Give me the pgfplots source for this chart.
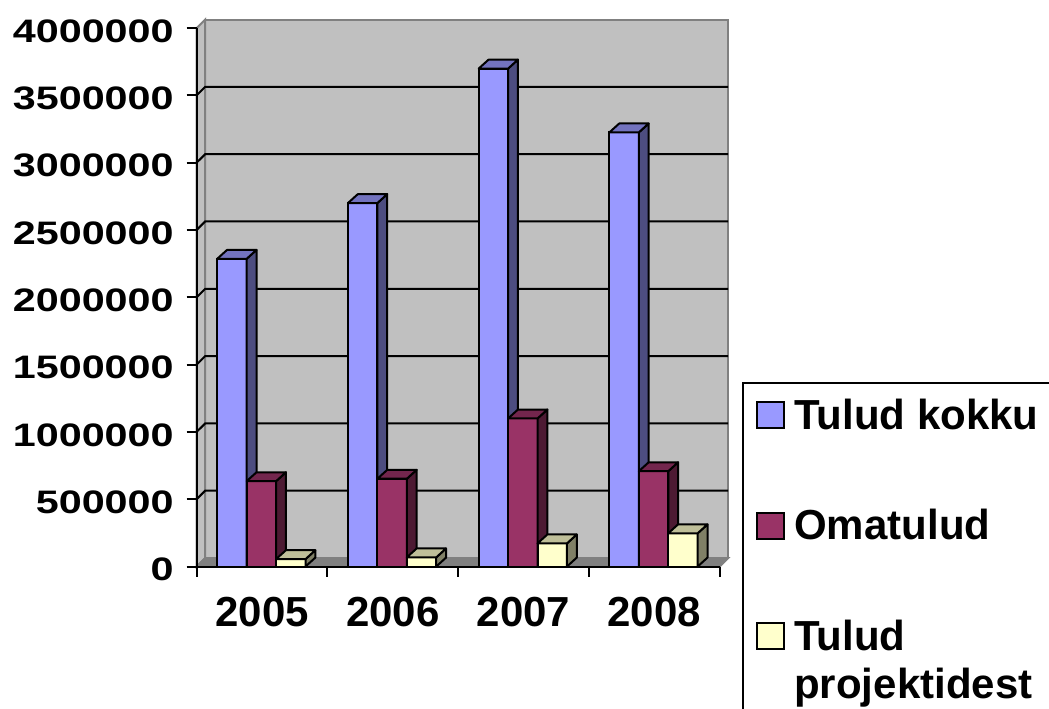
\documentclass[border=0pt]{standalone}
\usepackage{fontspec}
\setmainfont{Liberation Sans}
\newfontfamily\ystretch{Liberation Sans}[FakeStretch=1.27]
\usepackage{pgfplots}
\usepackage{pgfplotstable}
\pgfplotsset{compat=1.18}
\definecolor{bluefront}{HTML}{9999FF}
\definecolor{blueside}{HTML}{4D4D80}
\definecolor{bluetop}{HTML}{7373BF}
\definecolor{redfront}{HTML}{993366}
\definecolor{redside}{HTML}{4D1A33}
\definecolor{redtop}{HTML}{73264D}
\definecolor{yelfront}{HTML}{FFFFCC}
\definecolor{yelside}{HTML}{808066}
\definecolor{yeltop}{HTML}{BFBF99}
\definecolor{wall}{HTML}{C0C0C0}
\definecolor{floorc}{HTML}{808080}
\newcommand\yfont{\ystretch\bfseries\fontsize{16.25}{18}\selectfont}
\newcommand\legfont{\bfseries\fontsize{21}{22}\selectfont}

\pgfplotstableread{
x blue red yellow
1 2286000 634000 55000
2 2700000 652000 68000
3 3699000 1100000 172000
4 3225000 708000 247000
}\datatable

\def\dx{0.075}
\def\dy{66000}
\def\bw{0.1125}

% #1 column, #2 shift, #3 side colour, #4 top colour
\newcommand\barfaces[4]{%
  \pgfplotsinvokeforeach{0,1,2,3}{%
    \pgfplotstablegetelem{##1}{#1}\of\datatable
    \let\v\pgfplotsretval
    \edef\xa{\fpeval{##1+1+#2-\bw}}%
    \edef\xb{\fpeval{##1+1+#2+\bw}}%
    \edef\xc{\fpeval{\xb+\dx}}%
    \edef\xd{\fpeval{\xa+\dx}}%
    \edef\vt{\fpeval{\v+\dy}}%
    \edef\tmp{\noexpand\addplot[forget plot, fill=#3, draw=black, line width=1pt, line join=round]
      coordinates {(\xb,0) (\xc,\dy) (\xc,\vt) (\xb,\v)} -- cycle;
      \noexpand\addplot[forget plot, fill=#4, draw=black, line width=1pt, line join=round]
      coordinates {(\xa,\v) (\xb,\v) (\xc,\vt) (\xd,\vt)} -- cycle;}%
    \tmp
  }%
}

\begin{document}
\begin{tikzpicture}
\begin{axis}[
  at={(0,0)}, anchor=south west,
  scale only axis, width=261.45pt, height=269.25pt,
  xmin=0.5, xmax=4.5, ymin=0, ymax=4000000,
  clip=false,
  axis x line*=bottom, axis y line*=left,
  axis line style={black, line width=1pt, -},
  axis on top=true,
  tick align=outside,
  major tick length=5pt, minor tick length=5pt,
  every tick/.style={black, line width=1pt},
  xtick={1,2,3,4}, xticklabels={2005,2006,2007,2008},
  minor xtick={0.5,1.5,2.5,3.5,4.5},
  major x tick style={draw=none},
  xticklabel style={font=\legfont, yshift=-7pt},
  ytick={0,500000,1000000,1500000,2000000,2500000,3000000,3500000,4000000},
  scaled y ticks=false,
  yticklabel style={font=\yfont, xshift=-3pt, yshift=-1.5pt,
    /pgf/number format/fixed, /pgf/number format/1000 sep={},
    /pgf/number format/assume math mode=true},
]
% walls and floor
\addplot[forget plot, fill=wall, draw=floorc, line width=1pt]
  coordinates {(0.565,63000) (4.565,63000) (4.565,4063000) (0.565,4063000)} -- cycle;
\addplot[forget plot, fill=wall, draw=floorc, line width=1pt]
  coordinates {(0.5,0) (0.565,63000) (0.565,4063000) (0.5,4000000)} -- cycle;
\addplot[forget plot, fill=floorc, draw=floorc, line width=1pt]
  coordinates {(0.5,0) (4.5,0) (4.565,63000) (0.565,63000)} -- cycle;
% gridlines
\addplot[forget plot, black, line width=1pt] coordinates {(0.5,500000) (0.565,563000) (4.565,563000)};
\addplot[forget plot, black, line width=1pt] coordinates {(0.5,1000000) (0.565,1063000) (4.565,1063000)};
\addplot[forget plot, black, line width=1pt] coordinates {(0.5,1500000) (0.565,1563000) (4.565,1563000)};
\addplot[forget plot, black, line width=1pt] coordinates {(0.5,2000000) (0.565,2063000) (4.565,2063000)};
\addplot[forget plot, black, line width=1pt] coordinates {(0.5,2500000) (0.565,2563000) (4.565,2563000)};
\addplot[forget plot, black, line width=1pt] coordinates {(0.5,3000000) (0.565,3063000) (4.565,3063000)};
\addplot[forget plot, black, line width=1pt] coordinates {(0.5,3500000) (0.565,3563000) (4.565,3563000)};
% bars
\addplot[forget plot, ybar, bar width=0.225, bar shift=-0.23, fill=bluefront, draw=black, line width=1pt] table[x=x, y=blue] {\datatable};
\barfaces{blue}{-0.23}{blueside}{bluetop}
\addplot[forget plot, ybar, bar width=0.225, bar shift=-0.005, fill=redfront, draw=black, line width=1pt] table[x=x, y=red] {\datatable};
\barfaces{red}{-0.005}{redside}{redtop}
\addplot[forget plot, ybar, bar width=0.225, bar shift=0.22, fill=yelfront, draw=black, line width=1pt] table[x=x, y=yellow] {\datatable};
\barfaces{yellow}{0.22}{yelside}{yeltop}
\end{axis}
% legend (box runs past the page edge, as in the reference)
\draw[black, line width=0.75pt, fill=white] (273.15pt,91.75pt) rectangle (460pt,-110pt);
\draw[black, line width=0.75pt, fill=bluefront] (280.15pt,69.25pt) rectangle (293.65pt,82.25pt);
\draw[black, line width=0.75pt, fill=redfront] (280.15pt,13.75pt) rectangle (293.65pt,26.75pt);
\draw[black, line width=0.75pt, fill=yelfront] (280.15pt,-41.25pt) rectangle (293.65pt,-28.25pt);
\node[anchor=base west, inner sep=0pt, font=\legfont] at (298.6pt,68.75pt) {Tulud kokku};
\node[anchor=base west, inner sep=0pt, font=\legfont] at (298.6pt,13.5pt) {Omatulud};
\node[anchor=base west, inner sep=0pt, font=\legfont] at (298.6pt,-41.75pt) {Tulud};
\node[anchor=base west, inner sep=0pt, font=\legfont] at (298.6pt,-66pt) {projektidest};
\pgfresetboundingbox
\path[use as bounding box] (-98.35pt,-70.75pt) rectangle (426.15pt,283.25pt);
\end{tikzpicture}
\end{document}
